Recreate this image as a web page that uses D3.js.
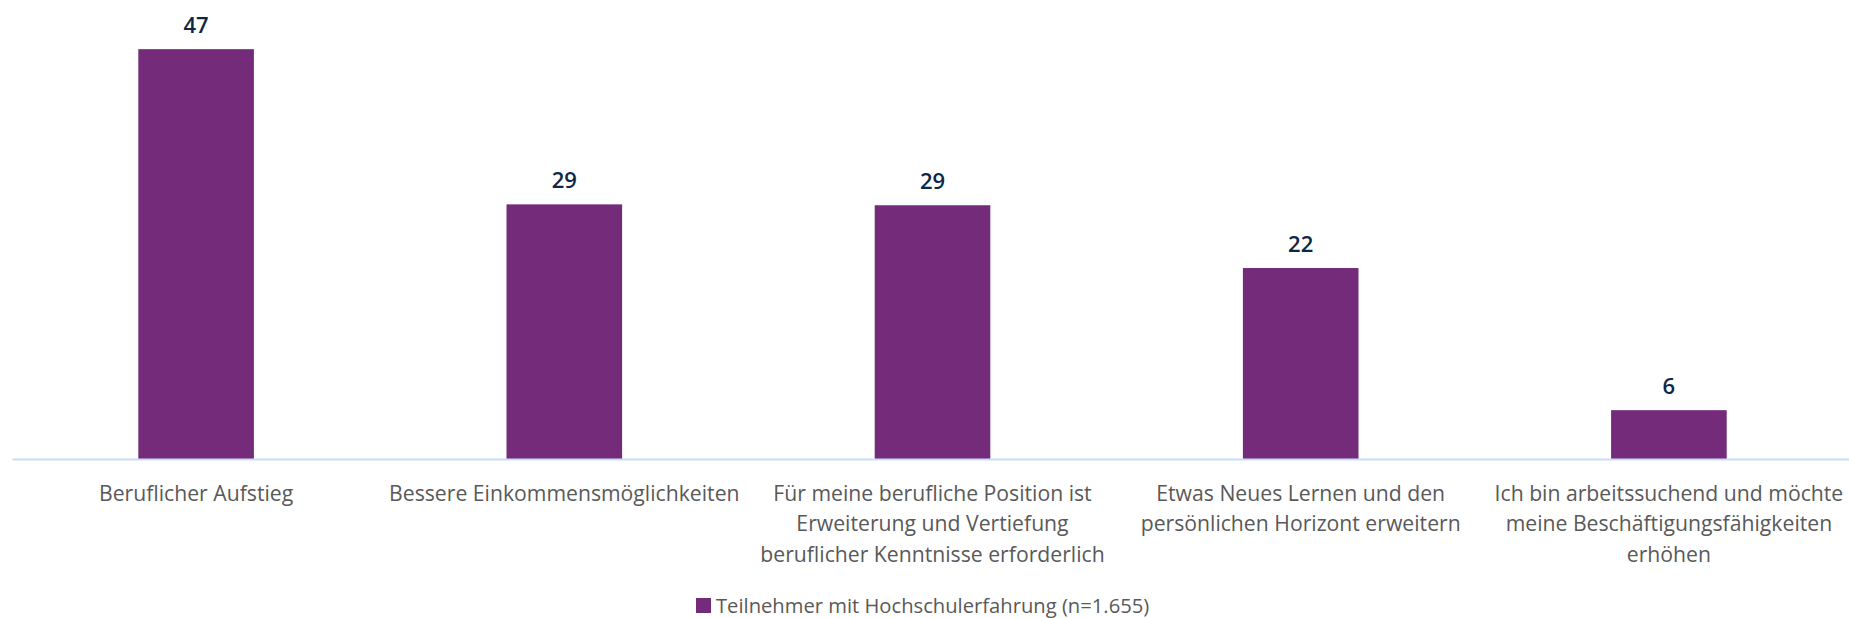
<!DOCTYPE html>
<html>
<head>
<meta charset="utf-8">
<script src="https://cdn.jsdelivr.net/npm/d3@7"></script>
<style>
  html, body { margin: 0; padding: 0; background: #ffffff; }
  svg { display: block; }
</style>
</head>
<body>
<svg id="chart" width="1849" height="618"></svg>
<script>
// ---- data ----
const categories = [
  "Beruflicher Aufstieg",
  "Bessere Einkommensmöglichkeiten",
  "Für meine berufliche Position ist\nErweiterung und Vertiefung\nberuflicher Kenntnisse erforderlich",
  "Etwas Neues Lernen und den\npersönlichen Horizont erweitern",
  "Ich bin arbeitssuchend und möchte\nmeine Beschäftigungsfähigkeiten\nerhöhen"
];
const values = [47.0, 29.2, 29.1, 21.9, 5.6];
const seriesName = "Teilnehmer mit Hochschulerfahrung (n=1.655)";

// ---- layout ----
const axisY = 459;
const svg = d3.select("#chart");

const x = d3.scaleBand()
  .domain(categories)
  .range([12, 1853])
  .paddingInner(0)
  .paddingOuter(0);

const y = d3.scaleLinear()
  .domain([0, 50])
  .range([axisY, axisY - 436]);

const barW = 115.6;
const barColor = "#742b7a";
const fontFam = "'Open Sans', 'Noto Sans', sans-serif";

// bars
svg.append("g")
  .selectAll("rect")
  .data(values)
  .join("rect")
  .attr("x", (d, i) => x(categories[i]) + x.bandwidth() / 2 - barW / 2)
  .attr("y", d => y(d))
  .attr("width", barW)
  .attr("height", d => y(0) - y(d))
  .attr("fill", barColor);

// axis line
const xAxis = d3.axisBottom(x).tickSize(0).tickFormat("");
const axG = svg.append("g")
  .attr("transform", `translate(0,${axisY})`)
  .call(xAxis);
axG.select(".domain")
  .attr("stroke", "#c6def6")
  .attr("stroke-width", 2);

// category labels (multi-line)
const labG = svg.append("g");
categories.forEach(c => {
  const lines = c.split("\n");
  const cx = x(c) + x.bandwidth() / 2;
  const t = labG.append("text")
    .attr("x", cx)
    .attr("y", 501)
    .attr("text-anchor", "middle")
    .attr("font-family", fontFam)
    .attr("font-size", 21.2)
    .attr("fill", "#595959");
  lines.forEach((ln, j) => {
    t.append("tspan")
      .attr("x", cx)
      .attr("dy", j === 0 ? 0 : 30.4)
      .text(ln);
  });
});

// value labels
svg.append("g")
  .selectAll("text")
  .data(values)
  .join("text")
  .attr("x", (d, i) => x(categories[i]) + x.bandwidth() / 2)
  .attr("y", d => y(d) - 16)
  .attr("text-anchor", "middle")
  .attr("font-family", fontFam)
  .attr("font-weight", 600)
  .attr("font-size", 22)
  .attr("fill", "#0e2747")
  .text(d => d3.format(".0f")(d));

// legend
const leg = svg.append("g");
leg.append("rect")
  .attr("x", 696)
  .attr("y", 598)
  .attr("width", 15)
  .attr("height", 15)
  .attr("fill", barColor);
leg.append("text")
  .attr("x", 716)
  .attr("y", 612.5)
  .attr("font-family", fontFam)
  .attr("font-size", 20.2)
  .attr("fill", "#595959")
  .text(seriesName);
</script>
</body>
</html>
